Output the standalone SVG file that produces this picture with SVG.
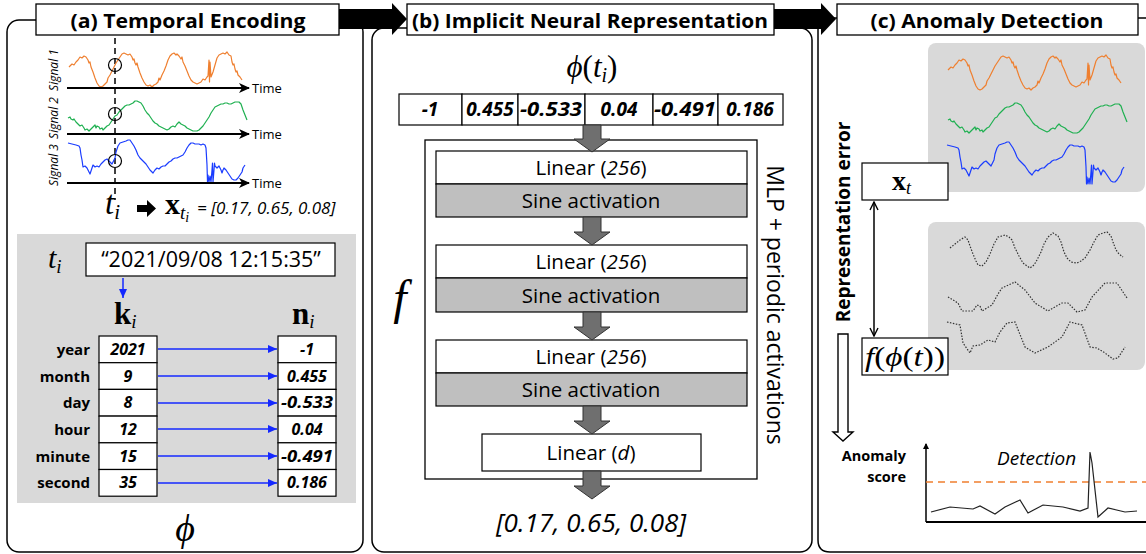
<svg xmlns="http://www.w3.org/2000/svg" width="1146" height="554" viewBox="0 0 1146 554">
<style>
.panel{fill:#fff;stroke:#000;stroke-width:1.5}
.tbox{fill:#fff;stroke:#000;stroke-width:1.3}
.ttl{font-family:"Open Sans",sans-serif;font-weight:bold;font-size:20px;text-anchor:middle}
.sans{font-family:"Open Sans",sans-serif}
.math{font-family:"Liberation Serif","DejaVu Serif",serif}
.cell{fill:#fff;stroke:#000;stroke-width:1.2}
.val{font-family:"Open Sans",sans-serif;font-weight:bold;font-style:italic;font-size:16px;text-anchor:middle}
.pv{font-family:"Open Sans",sans-serif;font-weight:bold;font-style:italic;font-size:19px;text-anchor:middle}
.lab{font-family:"Open Sans",sans-serif;font-weight:bold;font-size:15px;text-anchor:end}
.gray{fill:#d9d9d9}
.lin{fill:#fff;stroke:#000;stroke-width:1.2}
.sine{fill:#bfbfbf;stroke:#000;stroke-width:1.2}
.ltxt{font-family:"Open Sans",sans-serif;font-size:20.5px;text-anchor:middle}
.fat{fill:#6f6f6f;stroke:#333;stroke-width:1}
.sig{fill:none;stroke-width:1.2;stroke-linejoin:round}
.dot{fill:none;stroke:#333;stroke-width:1.2;stroke-dasharray:1.5 1.5}
.bl{stroke:#1428ff;stroke-width:1.5;fill:none}
.axis{stroke:#000;stroke-width:2;fill:none}
.time{font-family:"Open Sans",sans-serif;font-size:13px}
.sgl{font-family:"Open Sans",sans-serif;font-size:12px;font-style:italic;text-anchor:middle}
</style>
<defs>
  <marker id="ahBlue" markerUnits="userSpaceOnUse" markerWidth="9" markerHeight="8" refX="9" refY="4" orient="auto">
    <path d="M0,0 L9,4 L0,8 Z" fill="#1428ff"/>
  </marker>
  <marker id="ahAxis" markerUnits="userSpaceOnUse" markerWidth="11" markerHeight="10" refX="10" refY="5" orient="auto">
    <path d="M0,0 L11,5 L0,10 L3,5 Z" fill="#000"/>
  </marker>
  <marker id="ahOpen" markerUnits="userSpaceOnUse" markerWidth="10" markerHeight="10" refX="9" refY="5" orient="auto-start-reverse">
    <path d="M1,1 L9,5 L1,9" fill="none" stroke="#000" stroke-width="1.4"/>
  </marker>
  <marker id="ahSmall" markerUnits="userSpaceOnUse" markerWidth="6" markerHeight="6" refX="5" refY="3" orient="auto">
    <path d="M0,0 L6,3 L0,6 Z" fill="#000"/>
  </marker>
  <path id="sig1" d="M69,67 L72,64 74,65 76,62 78,60 80,57 82,58 84,56 86,57 88,60 89,63 90,62 91,67 93,72 95,78 97,83 99,86 101,87 103,86 105,84 107,82 108,78 110,75 112,71 114,67 116,63 118,60 120,57 122,54 124,53 126,54 128,55 130,54 132,57 133,60 134,59 135,63 136,65 137,63 138,67 140,73 142,78 144,82 146,85 148,86 150,85 152,87 154,85 156,84 158,82 159,78 160,80 162,75 164,71 166,66 168,60 170,56 172,54 174,53 176,55 177,54 179,56 181,59 182,57 183,62 185,66 187,71 189,76 191,80 193,82 195,83 197,84 199,83 201,82 203,79 205,80 207,77 208,76 209,60 209.5,82 210,62 211,77 213,72 215,65 217,58 219,55 221,54 223,53 225,54 227,52 229,55 231,56 232,62 233,65 234,64 235,69 236,72 237,71 238,75 240,77 242,80"/>
  <path id="sig2" d="M68,118 L70,117 71,119 73,120 74,119 76,122 78,124 80,126 82,125 84,128 85,130 87,129 89,131 91,129 93,127 95,125 96,128 97,126 99,127 100,129 102,128 103,130 105,128 107,126 109,125 111,122 113,119 115,116 117,115 119,112 121,110 123,108 125,106 127,105 129,105 131,104 133,103 135,101 137,101 139,102 141,103 143,106 145,110 147,113 149,115 151,118 153,121 155,123 157,124 159,126 161,127 163,128 165,129 167,130 169,129 171,127 173,126 175,127 177,124 179,122 181,124 183,125 185,126 187,128 189,129 191,130 193,131 195,131 197,131 199,130 201,128 203,126 205,123 207,120 209,117 211,113 213,110 215,107 217,106 219,105 221,104 223,104 225,103 227,103 229,104 231,104 233,103 235,102 237,102 239,102 241,104 243,110 245,115 247,120"/>
  <path id="sig3" d="M68,143 L72,144 76,145 79,146 80,148 81,155 82,160 83,167 85,166 87,168 88,170 90,174 91,171 93,165 95,167 97,166 99,167 101,164 103,162 105,160 107,159 109,161 111,163 112,164 113,162 115,158 116,152 118,146 120,143 123,142 126,141 128,140 130,140 132,143 134,146 136,150 138,155 140,158 142,160 144,162 146,164 148,167 150,170 152,172 153,173 155,170 157,168 159,169 161,167 163,166 165,166 167,164 169,162 171,161 173,159 175,158 177,158 179,157 181,156 183,155 185,152 187,148 189,145 191,143 193,143 195,144 197,144 199,144 201,145 203,144 205,145 206,148 207,165 207.5,182 208,175 209,182 210,176 211,182 212,170 212.5,163 213,182 214,170 214.5,163 215,166 217,168 219,166 221,170 222,173 223,170 224,168 226,170 228,173 230,176 232,179 234,180 236,180 238,178 240,175 242,172 243,168 245,165"/>
</defs>

<rect width="1146" height="554" fill="#fff"/>

<!-- panel frames -->
<g id="frames">
  <rect class="panel" x="7" y="20" width="356" height="532" rx="12"/>
  <rect class="panel" x="372" y="28" width="440" height="524" rx="12"/>
  <path class="panel" d="M1150,552 H830 Q818,552 818,540 V30 Q818,18 830,18 H1150"/>
</g>

<!-- panel titles -->
<g id="title-a">
  <rect class="tbox" x="36" y="4" width="303" height="31"/>
  <text class="ttl" x="188" y="28" textLength="235" lengthAdjust="spacingAndGlyphs">(a) Temporal Encoding</text>
</g>
<g id="title-b">
  <rect class="tbox" x="407" y="4" width="367" height="31"/>
  <text class="ttl" x="590" y="28" textLength="356" lengthAdjust="spacingAndGlyphs">(b) Implicit Neural Representation</text>
</g>
<g id="title-c">
  <rect class="tbox" x="837" y="4" width="301" height="31"/>
  <text class="ttl" x="987" y="28" textLength="233" lengthAdjust="spacingAndGlyphs">(c) Anomaly Detection</text>
</g>

<!-- block arrows between stages -->
<g id="stage-arrows">
  <path d="M339,9 H392 V3 L407,19 L392,35 V29 H339 Z" fill="#000"/>
  <path d="M774,9 H821 V3 L836,19 L821,35 V29 H774 Z" fill="#000"/>
</g>

<!-- (a) signals over time -->
<g id="signals-a">
  <line x1="115" y1="38" x2="115" y2="200" stroke="#000" stroke-width="1.5" stroke-dasharray="6 4"/>
  <use href="#sig1" class="sig" stroke="#ef7f2f"/>
  <use href="#sig2" class="sig" stroke="#1eb050"/>
  <use href="#sig3" class="sig" stroke="#1a3cff"/>
  <line class="axis" x1="67" y1="88" x2="249" y2="88" marker-end="url(#ahAxis)"/>
  <line class="axis" x1="67" y1="134" x2="249" y2="134" marker-end="url(#ahAxis)"/>
  <line class="axis" x1="67" y1="183" x2="249" y2="183" marker-end="url(#ahAxis)"/>
  <text class="time" x="252" y="93">Time</text>
  <text class="time" x="252" y="139">Time</text>
  <text class="time" x="252" y="188">Time</text>
  <circle cx="115" cy="65" r="6.5" fill="none" stroke="#000" stroke-width="1.2"/>
  <circle cx="115" cy="114" r="6.5" fill="none" stroke="#000" stroke-width="1.2"/>
  <circle cx="115" cy="161" r="6.5" fill="none" stroke="#000" stroke-width="1.2"/>
  <text class="sgl" transform="translate(58,70) rotate(-90)">Signal 1</text>
  <text class="sgl" transform="translate(58,118) rotate(-90)">Signal 2</text>
  <text class="sgl" transform="translate(58,165) rotate(-90)">Signal 3</text>
</g>

<g id="sample-a">
  <text class="math" x="105" y="214" font-size="33" font-style="italic">t<tspan font-size="21" dy="5">i</tspan></text>
  <path d="M137,205 H147 V200 L156,208.5 L147,217 V212 H137 Z" fill="#000"/>
  <text class="math" x="165" y="214" font-size="30" font-weight="bold">x<tspan font-size="19" font-style="italic" font-weight="normal" dy="5">t</tspan><tspan font-size="14" font-style="italic" font-weight="normal" dy="3">i</tspan></text>
  <text class="sans" x="197" y="214" font-size="17" font-style="italic">= [0.17, 0.65, 0.08]</text>
</g>

<!-- (a) timestamp encoding table -->
<g id="encoding-a">
  <rect class="gray" x="17" y="234" width="339" height="269"/>
  <text class="math" x="48" y="268" font-size="30" font-style="italic">t<tspan font-size="19" dy="5">i</tspan></text>
  <rect class="cell" x="86" y="243" width="249" height="33"/>
  <text class="sans" x="211" y="267" font-size="21.5" text-anchor="middle">“2021/09/08 12:15:35”</text>
  <line class="bl" x1="123" y1="278" x2="123" y2="298" marker-end="url(#ahBlue)"/>
  <text class="math" x="114" y="324" font-size="31" font-weight="bold">k<tspan font-size="19" font-style="italic" font-weight="normal" dy="4">i</tspan></text>
  <text class="math" x="292" y="324" font-size="31" font-weight="bold">n<tspan font-size="19" font-style="italic" font-weight="normal" dy="4">i</tspan></text>

  <g id="k-cells">
    <rect class="cell" x="99" y="336" width="58" height="26.7"/>
    <rect class="cell" x="99" y="362.7" width="58" height="26.7"/>
    <rect class="cell" x="99" y="389.4" width="58" height="26.7"/>
    <rect class="cell" x="99" y="416.1" width="58" height="26.7"/>
    <rect class="cell" x="99" y="442.8" width="58" height="26.7"/>
    <rect class="cell" x="99" y="469.5" width="58" height="26.7"/>
  </g>
  <g id="n-cells">
    <rect class="cell" x="278" y="336" width="58" height="26.7"/>
    <rect class="cell" x="278" y="362.7" width="58" height="26.7"/>
    <rect class="cell" x="278" y="389.4" width="58" height="26.7"/>
    <rect class="cell" x="278" y="416.1" width="58" height="26.7"/>
    <rect class="cell" x="278" y="442.8" width="58" height="26.7"/>
    <rect class="cell" x="278" y="469.5" width="58" height="26.7"/>
  </g>
  <text class="lab" x="90" y="355">year</text>
  <text class="lab" x="90" y="382">month</text>
  <text class="lab" x="90" y="408">day</text>
  <text class="lab" x="90" y="435">hour</text>
  <text class="lab" x="90" y="462">minute</text>
  <text class="lab" x="90" y="488">second</text>
  <text class="val" x="128" y="355">2021</text>
  <text class="val" x="128" y="382">9</text>
  <text class="val" x="128" y="408">8</text>
  <text class="val" x="128" y="435">12</text>
  <text class="val" x="128" y="462">15</text>
  <text class="val" x="128" y="488">35</text>
  <text class="val" x="307" y="355">-1</text>
  <text class="val" x="307" y="382">0.455</text>
  <text class="val" x="307" y="408" textLength="52" lengthAdjust="spacingAndGlyphs">-0.533</text>
  <text class="val" x="307" y="435">0.04</text>
  <text class="val" x="307" y="462" textLength="52" lengthAdjust="spacingAndGlyphs">-0.491</text>
  <text class="val" x="307" y="488">0.186</text>
  <text class="math" x="185" y="541" font-size="38" font-style="italic" text-anchor="middle">ϕ</text>
</g>

<g id="connectors">
  <line class="bl" x1="158" y1="349" x2="277" y2="349" marker-end="url(#ahBlue)"/>
  <line class="bl" x1="158" y1="376" x2="277" y2="376" marker-end="url(#ahBlue)"/>
  <line class="bl" x1="158" y1="403" x2="277" y2="403" marker-end="url(#ahBlue)"/>
  <line class="bl" x1="158" y1="429" x2="277" y2="429" marker-end="url(#ahBlue)"/>
  <line class="bl" x1="158" y1="456" x2="277" y2="456" marker-end="url(#ahBlue)"/>
  <line class="bl" x1="158" y1="483" x2="277" y2="483" marker-end="url(#ahBlue)"/>
  <line x1="874" y1="202" x2="874" y2="336" stroke="#000" stroke-width="1.5" marker-start="url(#ahOpen)" marker-end="url(#ahOpen)"/>
  <path d="M838,334 H848 V432 H853 L843,441 L833,432 H838 Z" fill="#fff" stroke="#000" stroke-width="1.4"/>
</g>

<!-- (b) implicit neural representation -->
<g id="inr-b">
  <text class="math" x="592" y="77" font-size="31" text-anchor="middle"><tspan font-style="italic">ϕ</tspan>(<tspan font-style="italic">t</tspan><tspan font-size="20" font-style="italic" dy="5">i</tspan><tspan dy="-5">)</tspan></text>
  <g id="phi-row">
    <rect class="cell" x="399" y="94" width="63" height="31"/>
    <rect class="cell" x="462" y="94" width="56" height="31"/>
    <rect class="cell" x="518" y="94" width="67" height="31"/>
    <rect class="cell" x="585" y="94" width="68" height="31"/>
    <rect class="cell" x="653" y="94" width="65" height="31"/>
    <rect class="cell" x="718" y="94" width="65" height="31"/>
    <text class="pv" x="430" y="116">-1</text>
    <text class="pv" x="490" y="116">0.455</text>
    <text class="pv" x="551" y="116" textLength="62" lengthAdjust="spacingAndGlyphs">-0.533</text>
    <text class="pv" x="619" y="116">0.04</text>
    <text class="pv" x="685" y="116" textLength="62" lengthAdjust="spacingAndGlyphs">-0.491</text>
    <text class="pv" x="750" y="116">0.186</text>
  </g>
  <rect x="425" y="140" width="332" height="339" fill="#fff" stroke="#000" stroke-width="1.3"/>
  <rect class="lin" x="436" y="151" width="311" height="33"/>
  <rect class="sine" x="436" y="184" width="311" height="33"/>
  <rect class="lin" x="436" y="245" width="311" height="33"/>
  <rect class="sine" x="436" y="278" width="311" height="34"/>
  <rect class="lin" x="436" y="340" width="311" height="33"/>
  <rect class="sine" x="436" y="373" width="311" height="33"/>
  <rect class="lin" x="482" y="434" width="219" height="37"/>
  <text class="ltxt" x="591" y="175">Linear (<tspan font-style="italic">256</tspan>)</text>
  <text class="ltxt" x="591" y="208">Sine activation</text>
  <text class="ltxt" x="591" y="269">Linear (<tspan font-style="italic">256</tspan>)</text>
  <text class="ltxt" x="591" y="303">Sine activation</text>
  <text class="ltxt" x="591" y="364">Linear (<tspan font-style="italic">256</tspan>)</text>
  <text class="ltxt" x="591" y="397">Sine activation</text>
  <text class="ltxt" x="591" y="460">Linear (<tspan font-style="italic">d</tspan>)</text>
  <path class="fat" d="M583,125 H601 V139 H610 L592,152 L574,139 H583 Z"/>
  <path class="fat" d="M583,217 H601 V232 H610 L592,245 L574,232 H583 Z"/>
  <path class="fat" d="M583,312 H601 V327 H610 L592,340 L574,327 H583 Z"/>
  <path class="fat" d="M583,406 H601 V421 H610 L592,434 L574,421 H583 Z"/>
  <path class="fat" d="M583,471 H601 V486 H610 L592,499 L574,486 H583 Z"/>
  <text class="sans" x="775" y="305" font-size="23" text-anchor="middle" transform="rotate(90 775 305)" dy="8">MLP + periodic activations</text>
  <text class="math" x="400" y="314" font-size="48" font-style="italic" text-anchor="middle">f</text>
  <text class="sans" x="591" y="532" font-size="26" font-style="italic" text-anchor="middle">[0.17, 0.65, 0.08]</text>
</g>

<!-- (c) anomaly detection -->
<g id="observed-c">
  <rect class="gray" x="928" y="43" width="217" height="149" rx="8"/>
  <use href="#sig1" class="sig" stroke="#ef7f2f" transform="translate(879,3)"/>
  <use href="#sig2" class="sig" stroke="#1eb050" transform="translate(880,2)"/>
  <use href="#sig3" class="sig" stroke="#1a3cff" transform="translate(879,2)"/>
</g>
<g id="reconstructed-c">
  <rect class="gray" x="928" y="222" width="217" height="148" rx="8"/>
  <path class="dot" d="M950,248 L955,244 960,240 965,237 968,240 970,246 973,254 976,261 978,265 982,266 986,262 990,254 994,244 998,237 1002,236 1005,235 1009,237 1012,240 1015,248 1019,256 1023,263 1027,266 1030,268 1034,265 1037,260 1041,252 1044,244 1048,237 1053,233 1058,236 1061,242 1064,252 1067,258 1071,262 1077,263 1081,261 1085,258 1090,250 1094,242 1098,235 1103,233 1107,232 1111,236 1113,242 1116,250 1119,254 1123,257"/>
  <path class="dot" d="M948,297 L958,303 962,311 973,311 977,305 980,306 982,311 992,305 998,294 1002,288 1015,282 1025,290 1035,303 1048,311 1062,303 1068,303 1077,312 1085,310 1092,297 1105,283 1117,283 1127,298"/>
  <path class="dot" d="M947,322 L960,325 963,343 970,353 973,346 980,345 988,340 995,342 1000,332 1007,323 1015,322 1025,347 1035,353 1048,347 1062,337 1070,322 1082,325 1090,347 1097,348 1105,353 1113,359 1118,358 1125,347"/>
</g>
<g id="xt-box">
  <rect class="cell" x="862" y="163" width="86" height="37"/>
  <text class="math" x="892" y="190" font-size="28" font-weight="bold">x<tspan font-size="18" font-style="italic" font-weight="normal" dy="4">t</tspan></text>
</g>
<g id="fphi-box">
  <rect class="cell" x="862" y="338" width="86" height="37"/>
  <text class="math" x="905" y="366" font-size="27" text-anchor="middle" textLength="80" lengthAdjust="spacingAndGlyphs"><tspan font-style="italic">f</tspan>(<tspan font-style="italic">ϕ</tspan>(<tspan font-style="italic">t</tspan>))</text>
</g>
<text class="sans" x="843" y="222" font-size="19" font-weight="bold" text-anchor="middle" transform="rotate(-90 843 222)" dy="7">Representation error</text>
<g id="score-c">
  <text class="sans" x="906" y="461" font-size="14.5" font-weight="bold" text-anchor="end">Anomaly</text>
  <text class="sans" x="906" y="482" font-size="14.5" font-weight="bold" text-anchor="end">score</text>
  <line x1="926" y1="522" x2="926" y2="444" stroke="#000" stroke-width="1.5" marker-end="url(#ahSmall)"/>
  <line x1="926" y1="522" x2="1146" y2="522" stroke="#000" stroke-width="1.8"/>
  <line x1="926" y1="482" x2="1146" y2="482" stroke="#ef7f2f" stroke-width="1.6" stroke-dasharray="7 5"/>
  <polyline fill="none" stroke="#222" stroke-width="1.2" points="931,512 950,507 973,509 980,506 995,514 1005,507 1020,500 1028,513 1043,505 1063,507 1080,511 1088,508 1090,452 1092,463 1098,517 1108,508 1125,512 1137,511"/>
  <text class="sans" x="997" y="465" font-size="19" font-style="italic">Detection</text>
</g>
</svg>
